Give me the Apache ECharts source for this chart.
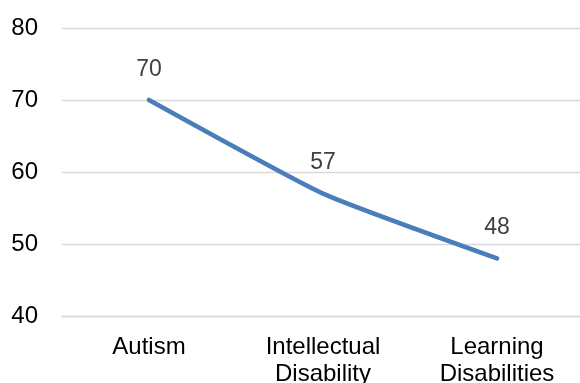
<!DOCTYPE html>
<html>
<head>
<meta charset="utf-8">
<script src="https://cdn.jsdelivr.net/npm/echarts@6/dist/echarts.min.js"></script>
<style>
  html, body { margin: 0; padding: 0; background: #fff; }
  #chart { width: 580px; height: 383px; }
</style>
</head>
<body>
<div id="chart"></div>
<script>
// Categories along the x axis
const categories = ['Autism', 'Intellectual\nDisability', 'Learning\nDisabilities'];
// Values plotted on the line
const values = [70, 57, 48];
// Y axis range and tick step
const yMin = 40;
const yMax = 80;
const yStep = 10;

const chart = echarts.init(document.getElementById('chart'), null, { renderer: 'canvas' });

const font = 'Liberation Sans, Arial, sans-serif';
const lineColor = '#4a7ebb';

chart.setOption({
  animation: false,
  backgroundColor: '#ffffff',
  grid: {
    left: 62, top: 28, width: 522, height: 288,
    containLabel: false,
    outerBoundsMode: 'none'
  },
  xAxis: {
    type: 'category',
    data: categories,
    boundaryGap: true,
    axisLine: { show: true, lineStyle: { color: '#d9d9d9', width: 1.3 } },
    axisTick: { show: false },
    axisLabel: {
      color: '#000000',
      fontFamily: font,
      fontSize: 24,
      lineHeight: 27,
      margin: 18,
      interval: 0
    }
  },
  yAxis: {
    type: 'value',
    min: yMin,
    max: yMax,
    interval: yStep,
    axisLine: { show: false },
    axisTick: { show: false },
    splitLine: { show: true, lineStyle: { color: '#d9d9d9', width: 1.3 } },
    axisLabel: {
      color: '#000000',
      fontFamily: font,
      fontSize: 24,
      margin: 24
    }
  },
  series: [{
    type: 'line',
    data: values,
    smooth: 0.15,
    showSymbol: true,
    symbol: 'circle',
    symbolSize: 2,
    lineStyle: { color: lineColor, width: 4.6, cap: 'round', join: 'round' },
    itemStyle: { color: lineColor, borderWidth: 0 },
    label: {
      show: true,
      position: 'top',
      distance: 18,
      color: '#404040',
      fontFamily: font,
      fontSize: 23
    }
  }]
});
</script>
</body>
</html>
